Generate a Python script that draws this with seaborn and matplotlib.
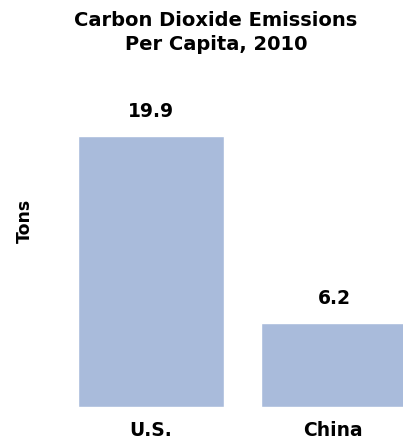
"""
Carbon dioxide emissions per capita, 2010 - bar chart
"""
import matplotlib
matplotlib.use('Agg')
import matplotlib.pyplot as plt
import seaborn as sns
import pandas as pd

# --- data ---
countries = ['U.S.', 'China']
tons = [19.9, 6.2]
value_labels = ['19.9', '6.2']

sns.set_style('white')
plt.rcParams['font.family'] = ['DejaVu Sans']
plt.rcParams['text.color'] = 'black'

df = pd.DataFrame({'country': countries, 'tons': tons})

fig = plt.figure(figsize=(4.03, 4.42), dpi=100)
ax = fig.add_axes([0, 35 / 442, 1, 407 / 442])

sns.barplot(data=df, x='country', y='tons', color='#a9bbdb', saturation=1,
            width=0.8, ax=ax)

ax.set_xlim(-0.825, 1.377)
ax.set_ylim(0, 29.9)

# value labels above the bars
for i, v in enumerate(tons):
    ax.annotate(value_labels[i], (i, v), xytext=(0, 17.5), textcoords='offset points',
                ha='center', va='center', fontsize=13.5, fontweight='bold', color='black')

# category labels under the bars
for i, c in enumerate(countries):
    fig.text((151 + 182 * i) / 403, 1 - 431 / 442, c, ha='center', va='center',
             fontsize=13.5, fontweight='bold', color='black')

fig.text(216 / 403, 1 - 21 / 442, 'Carbon Dioxide Emissions', ha='center', va='center',
         fontsize=14, fontweight='bold', color='black')
fig.text(216 / 403, 1 - 44 / 442, 'Per Capita, 2010', ha='center', va='center',
         fontsize=14, fontweight='bold', color='black')
fig.text(25 / 403, 1 - 221 / 442, 'Tons', ha='center', va='center', rotation=90,
         fontsize=12.5, fontweight='bold', color='black')

ax.set_xlabel('')
ax.set_ylabel('')
ax.set_xticks([])
ax.set_yticks([])
sns.despine(ax=ax, left=True, bottom=True)

fig.savefig('out.png', dpi=100)
